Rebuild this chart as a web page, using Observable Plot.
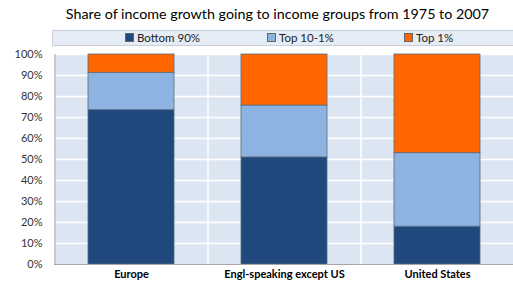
<!DOCTYPE html>
<html><head><meta charset="utf-8">
<script src="https://cdn.jsdelivr.net/npm/d3@7"></script>
<script src="https://cdn.jsdelivr.net/npm/@observablehq/plot@0.6"></script>
<style>
body{margin:0;background:#fff;font-family:Lato,"Open Sans",sans-serif;}
#wrap{position:relative;width:513px;height:284px;overflow:hidden;}
#title{position:absolute;left:0;top:5px;width:555px;text-align:center;font-size:14.3px;color:#000;}
#legend{position:absolute;left:52px;top:30px;width:470px;height:14px;background:#e6ecf5;border:1px solid #c8d0dc;font-size:11.5px;color:#222;}
.item{position:absolute;top:0px;line-height:14px;}
.sw{display:inline-block;width:7px;height:7px;border:1px solid #666;margin-right:3px;vertical-align:0px;}
#chart{position:absolute;left:0;top:0;}
</style></head>
<body><div id="wrap"><div id="title">Share of income growth going to income groups from 1975 to 2007</div><div id="legend"></div><div id="chart"></div></div>
<script>
const categories = ["Europe", "Engl-speaking except US", "United States"];
const groups = ["Bottom 90%", "Top 10-1%", "Top 1%"];
const colors = ["#1f497d", "#8db3e2", "#ff6600"];
const bottom90 = [0.735, 0.51, 0.18];
const top10to1 = [0.178, 0.247, 0.35];
const top1 = [0.087, 0.243, 0.47];
const yTicks = [0, 0.1, 0.2, 0.3, 0.4, 0.5, 0.6, 0.7, 0.8, 0.9, 1.0];

const series = [bottom90, top10to1, top1];
const data = [];
groups.forEach((g, gi) => categories.forEach((c, ci) => data.push({cat: c, group: g, value: series[gi][ci]})));

const legendPos = [72, 214, 351];
const leg = document.getElementById("legend");
groups.forEach((g, i) => {
  const d = document.createElement("div");
  d.className = "item";
  d.style.left = legendPos[i] + "px";
  d.innerHTML = `<span class="sw" style="background:${colors[i]}"></span>${g}`;
  leg.appendChild(d);
});

const step = 153;
const chart = Plot.plot({
  width: 513, height: 284,
  marginTop: 54, marginBottom: 20, marginLeft: 54, marginRight: 0,
  style: {fontFamily: "Lato, sans-serif", background: "transparent"},
  x: {domain: categories, paddingInner: 0.44, paddingOuter: 0.22, label: null},
  y: {domain: [0, 1], label: null},
  color: {domain: groups, range: colors},
  marks: [
    Plot.frame({fill: "#dce6f2", stroke: null}),
    Plot.ruleY(yTicks.slice(1), {stroke: "#ffffff", strokeWidth: 1.5}),
    Plot.ruleX(categories.slice(1), {x: d => d, dx: -step / 2, stroke: "#ffffff", strokeWidth: 1.5}),
    Plot.barY(data, {x: "cat", y: "value", fill: "group", stroke: "#5b6a7c", strokeWidth: 0.8}),
    Plot.ruleX([categories[0]], {x: d => d, dx: -step / 2, stroke: "#a6a6a6"}),
    Plot.ruleY([0], {stroke: "#a6a6a6"}),
    Plot.axisY({ticks: yTicks, tickFormat: d3.format(".0%"), tickSize: 0, tickPadding: 12, fontSize: 11, fill: "#333"}),
    Plot.axisX({tickSize: 0, tickPadding: 6, fontSize: 11, fontWeight: "bold", fill: "#000"})
  ]
});
document.getElementById("chart").appendChild(chart);
</script></body></html>
